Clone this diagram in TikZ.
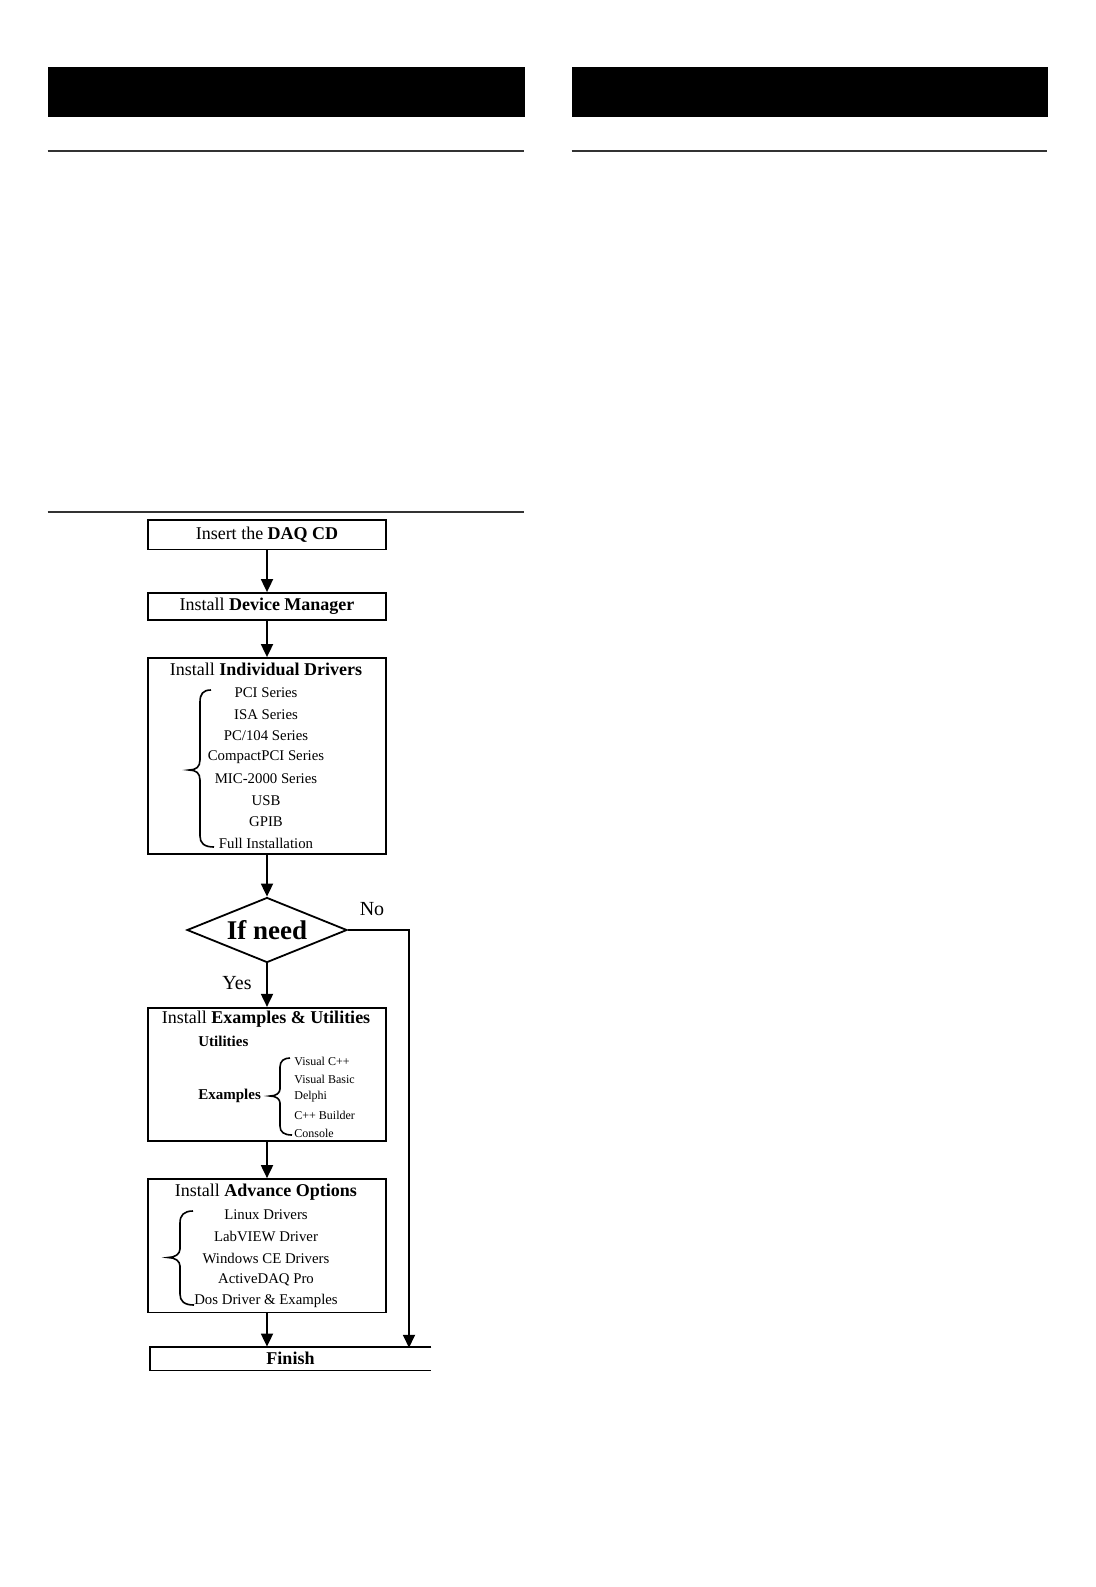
\documentclass[tikz,border=0pt]{standalone}
\usepackage{fontspec}
\setmainfont{Liberation Serif}
\usetikzlibrary{shapes.geometric,arrows.meta}
\begin{document}
\begin{tikzpicture}[x=0.5pt,y=-0.5pt,
  box/.style={draw,line width=0.9pt,minimum width=119pt,inner sep=0pt,anchor=center},
  arr/.style={line width=0.9pt,-{Triangle[length=6.5pt,width=6pt]}},
  ttl/.style={font=\fontsize{9}{10}\selectfont,inner sep=0pt},
  itm/.style={font=\fontsize{7.4}{8}\selectfont,inner sep=0pt},
  sml/.style={font=\fontsize{6}{7}\selectfont,inner sep=0pt,anchor=west},
  lbl/.style={font=\fontsize{7.5}{8}\selectfont\bfseries,inner sep=0pt,anchor=west},
  brc/.style={line width=0.8pt},
  rul/.style={line width=0.85pt,black!80}]
\useasboundingbox (0,0) rectangle (1096,1587);
\fill[white] (0,0) rectangle (1096,1587);
% page header
\fill[black] (47.5,67.3) rectangle (525,117.3);
\fill[black] (571.7,67.3) rectangle (1048.4,117.3);
\draw[rul] (47.5,150.7) -- (523.5,150.7);
\draw[rul] (571.7,150.7) -- (1047,150.7);
\draw[rul] (47.5,512.3) -- (523.5,512.3);
% boxes
\node[box,minimum height=14.75pt,ttl] (b1) at (267,534.75) {Insert the \textbf{DAQ CD}};
\node[box,minimum height=13.5pt,ttl] (b2) at (267,606.5) {Install \textbf{Device Manager}};
\node[box,minimum height=98pt] (b3) at (267,756) {};
\node[ttl] (t3) at (266,669) {Install \textbf{Individual Drivers}};
\node[itm] (i31) at (266,693) {PCI Series};
\node[itm] (i32) at (266,714.5) {ISA Series};
\node[itm] (i33) at (266,736) {PC/104 Series};
\node[itm] (i34) at (266,757) {CompactPCI Series};
\node[itm] (i35) at (266,779) {MIC-2000 Series};
\node[itm] (i36) at (266,800.5) {USB};
\node[itm] (i37) at (266,822) {GPIB};
\node[itm] (i38) at (266,843) {Full Installation};
\draw[brc] (211,690) .. controls (203,690) and (200,694) .. (200,702) -- (200,760) .. controls (200,767) and (196,770) .. (189,770) .. controls (196,770) and (200,773) .. (200,780) -- (200,836) .. controls (200,843) and (204,847) .. (214,847);
% decision
\node[diamond,draw,line width=0.9pt,aspect=2.5,inner sep=0pt,minimum width=80pt,minimum height=32.5pt,font=\fontsize{13.5}{14}\selectfont\bfseries] (d) at (267,930) {If need};
\node[inner sep=0pt,font=\fontsize{10}{11}\selectfont] (no) at (372,909) {No};
\node[inner sep=0pt,font=\fontsize{10}{11}\selectfont] (yes) at (237,983) {Yes};
% box 4
\node[box,minimum height=66.5pt] (b4) at (267,1074.3) {};
\node[ttl] (t4) at (266,1019) {Install \textbf{Examples \& Utilities}};
\node[lbl] (u4) at (198,1041) {Utilities};
\node[lbl] (e4) at (198,1095.5) {Examples};
\node[sml] (s1) at (294,1061) {Visual C++};
\node[sml] (s2) at (294,1079) {Visual Basic};
\node[sml] (s3) at (294,1097) {Delphi};
\node[sml] (s4) at (294,1115) {C++ Builder};
\node[sml] (s5) at (294,1133) {Console};
\draw[brc] (290,1058) .. controls (284,1058) and (280,1061) .. (280,1067) -- (280,1089) .. controls (280,1093) and (276,1096) .. (270,1096) .. controls (276,1096) and (280,1099) .. (280,1103) -- (280,1126) .. controls (280,1132) and (284,1135) .. (292,1135);
% box 5
\node[box,minimum height=66.75pt] (b5) at (267,1245.8) {};
\node[ttl] (t5) at (266,1192) {Install \textbf{Advance Options}};
\node[itm] (a1) at (266,1215) {Linux Drivers};
\node[itm] (a2) at (266,1236.5) {LabVIEW Driver};
\node[itm] (a3) at (266,1258) {Windows CE Drivers};
\node[itm] (a4) at (266,1279.5) {ActiveDAQ Pro};
\node[itm] (a5) at (266,1301) {Dos Driver \& Examples};
\draw[brc] (193,1211) .. controls (184,1211) and (180,1215) .. (180,1223) -- (180,1249) .. controls (180,1254) and (175,1257.5) .. (168,1257.5) .. controls (175,1257.5) and (180,1261) .. (180,1266) -- (180,1294) .. controls (180,1301) and (184,1305) .. (194,1305);
% finish
\node[minimum width=140.5pt,minimum height=11.5pt,inner sep=0pt,ttl,font=\fontsize{9}{10}\selectfont\bfseries] (fin) at (290.5,1358.5) {Finish};
\draw[line width=0.9pt] (fin.north east) -- (fin.north west) -- (fin.south west) -- (fin.south east);
% connectors
\draw[arr] (b1.south) -- (b2.north);
\draw[arr] (b2.south) -- (b3.north);
\draw[arr] (b3.south) -- (d.north);
\draw[arr] (d.south) -- (b4.north);
\draw[arr] (b4.south) -- (b5.north);
\draw[arr] (b5.south) -- (b5.south |- fin.north);
\coordinate (nx) at (409,1347.75);
\draw[arr] (d.east) -| (nx);
\end{tikzpicture}
\end{document}
